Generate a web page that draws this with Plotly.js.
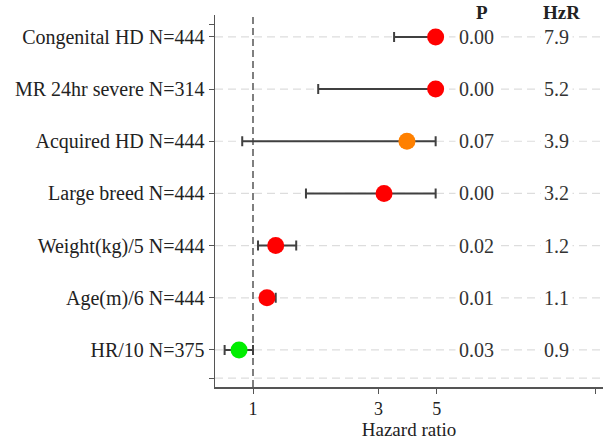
<!DOCTYPE html>
<html>
<head>
<meta charset="utf-8">
<script src="https://cdn.plot.ly/plotly-3.0.1.min.js"></script>
<style>html,body{margin:0;padding:0;background:#fff;}#chart{width:603px;height:440px;}</style>
</head>
<body>
<div id="chart"></div>
<script>
// Data (top row first)
var labels = ['Congenital HD N=444', 'MR 24hr severe N=314', 'Acquired HD N=444', 'Large breed N=444', 'Weight(kg)/5 N=444', 'Age(m)/6 N=444', 'HR/10 N=375'];
var hrPlotted = [4.95, 4.95, 3.85, 3.15, 1.22, 1.13, 0.885];   // drawn point positions (axis capped at 5)
var ciLower = [3.44, 1.77, 0.91, 1.59, 1.045, 1.07, 0.78];
var ciUpper = [4.95, 4.95, 4.95, 4.95, 1.46, 1.22, 1.0];
var pText = ['0.00', '0.00', '0.07', '0.00', '0.02', '0.01', '0.03'];
var hzrText = ['7.9', '5.2', '3.9', '3.2', '1.2', '1.1', '0.9'];
var pointColors = ['#FF0000', '#FF0000', '#FF8000', '#FF0000', '#FF0000', '#FF0000', '#00EE00'];
var xTickVals = [1, 3, 5, 20];
var xTickText = ['1', '3', '5', ''];

var n = labels.length;
var ypos = labels.map(function (_, i) { return n - i; });

var FONT = 'Liberation Serif, Times New Roman, serif';
var traces = [];

// reference line at HR = 1
traces.push({
  x: [1, 1], y: [0.29, 7.42], mode: 'lines', type: 'scatter',
  line: {color: '#555555', width: 1.5, dash: '7px,4px'},
  hoverinfo: 'skip', showlegend: false
});

// CI + points
traces.push({
  x: hrPlotted, y: ypos, type: 'scatter', mode: 'markers',
  marker: {size: 17, color: pointColors},
  error_x: {
    type: 'data', symmetric: false,
    array: hrPlotted.map(function (v, i) { return ciUpper[i] - v; }),
    arrayminus: hrPlotted.map(function (v, i) { return v - ciLower[i]; }),
    color: '#404040', thickness: 2, width: 5
  },
  showlegend: false
});

var shapes = [];
var gridY = ypos.concat([0.46]);
gridY.forEach(function (yv) {
  shapes.push({type: 'line', xref: 'paper', x0: 0, x1: 1, yref: 'y', y0: yv, y1: yv,
    line: {color: '#DDDDDD', width: 1.2, dash: '8px,5px'}, layer: 'below'});
});

var annotations = [];
var xP = 0.675, xH = 0.881;
annotations.push({xref: 'paper', yref: 'paper', x: xP + 0.013, y: 1.0, xanchor: 'center', yanchor: 'bottom', text: '<b>P</b>', showarrow: false, font: {family: FONT, size: 19, color: '#222'}, yshift: -10});
annotations.push({xref: 'paper', yref: 'paper', x: xH + 0.013, y: 1.0, xanchor: 'center', yanchor: 'bottom', text: '<b>HzR</b>', showarrow: false, font: {family: FONT, size: 19, color: '#222'}, yshift: -10});
ypos.forEach(function (yv, i) {
  annotations.push({xref: 'paper', yref: 'y', x: xP, y: yv, xanchor: 'center', text: pText[i], showarrow: false,
    font: {family: FONT, size: 20, color: '#333'}, bgcolor: '#ffffff', borderpad: 3});
  annotations.push({xref: 'paper', yref: 'y', x: xH, y: yv, xanchor: 'center', text: hzrText[i], showarrow: false,
    font: {family: FONT, size: 20, color: '#333'}, bgcolor: '#ffffff', borderpad: 3});
});

var layout = {
  width: 603, height: 440,
  margin: {l: 215, r: 0, t: 15, b: 53},
  paper_bgcolor: '#ffffff', plot_bgcolor: '#ffffff',
  font: {family: FONT, size: 20, color: '#222'},
  xaxis: {
    type: 'log', range: [-0.1445, 1.331],
    tickvals: xTickVals, ticktext: xTickText,
    ticks: 'outside', ticklen: 5, tickwidth: 1, tickcolor: '#555',
    showline: true, linecolor: '#555', linewidth: 1.5,
    showgrid: false, zeroline: false,
    tickfont: {family: FONT, size: 18, color: '#222'},
    title: {text: 'Hazard ratio', font: {family: FONT, size: 19, color: '#222'}, standoff: 4},
    automargin: false
  },
  yaxis: {
    range: [0.29, 7.42],
    tickvals: [0.46].concat(ypos).concat([7.23]),
    ticktext: [''].concat(labels).concat(['']),
    ticks: 'outside', ticklen: 5, tickwidth: 1, tickcolor: '#555',
    showline: true, linecolor: '#555', linewidth: 1.5,
    showgrid: false, zeroline: false,
    tickfont: {family: FONT, size: 20, color: '#222'},
    automargin: false
  },
  shapes: shapes,
  annotations: annotations,
  showlegend: false
};

Plotly.newPlot('chart', traces, layout, {displayModeBar: false, staticPlot: true});
</script>
</body>
</html>
